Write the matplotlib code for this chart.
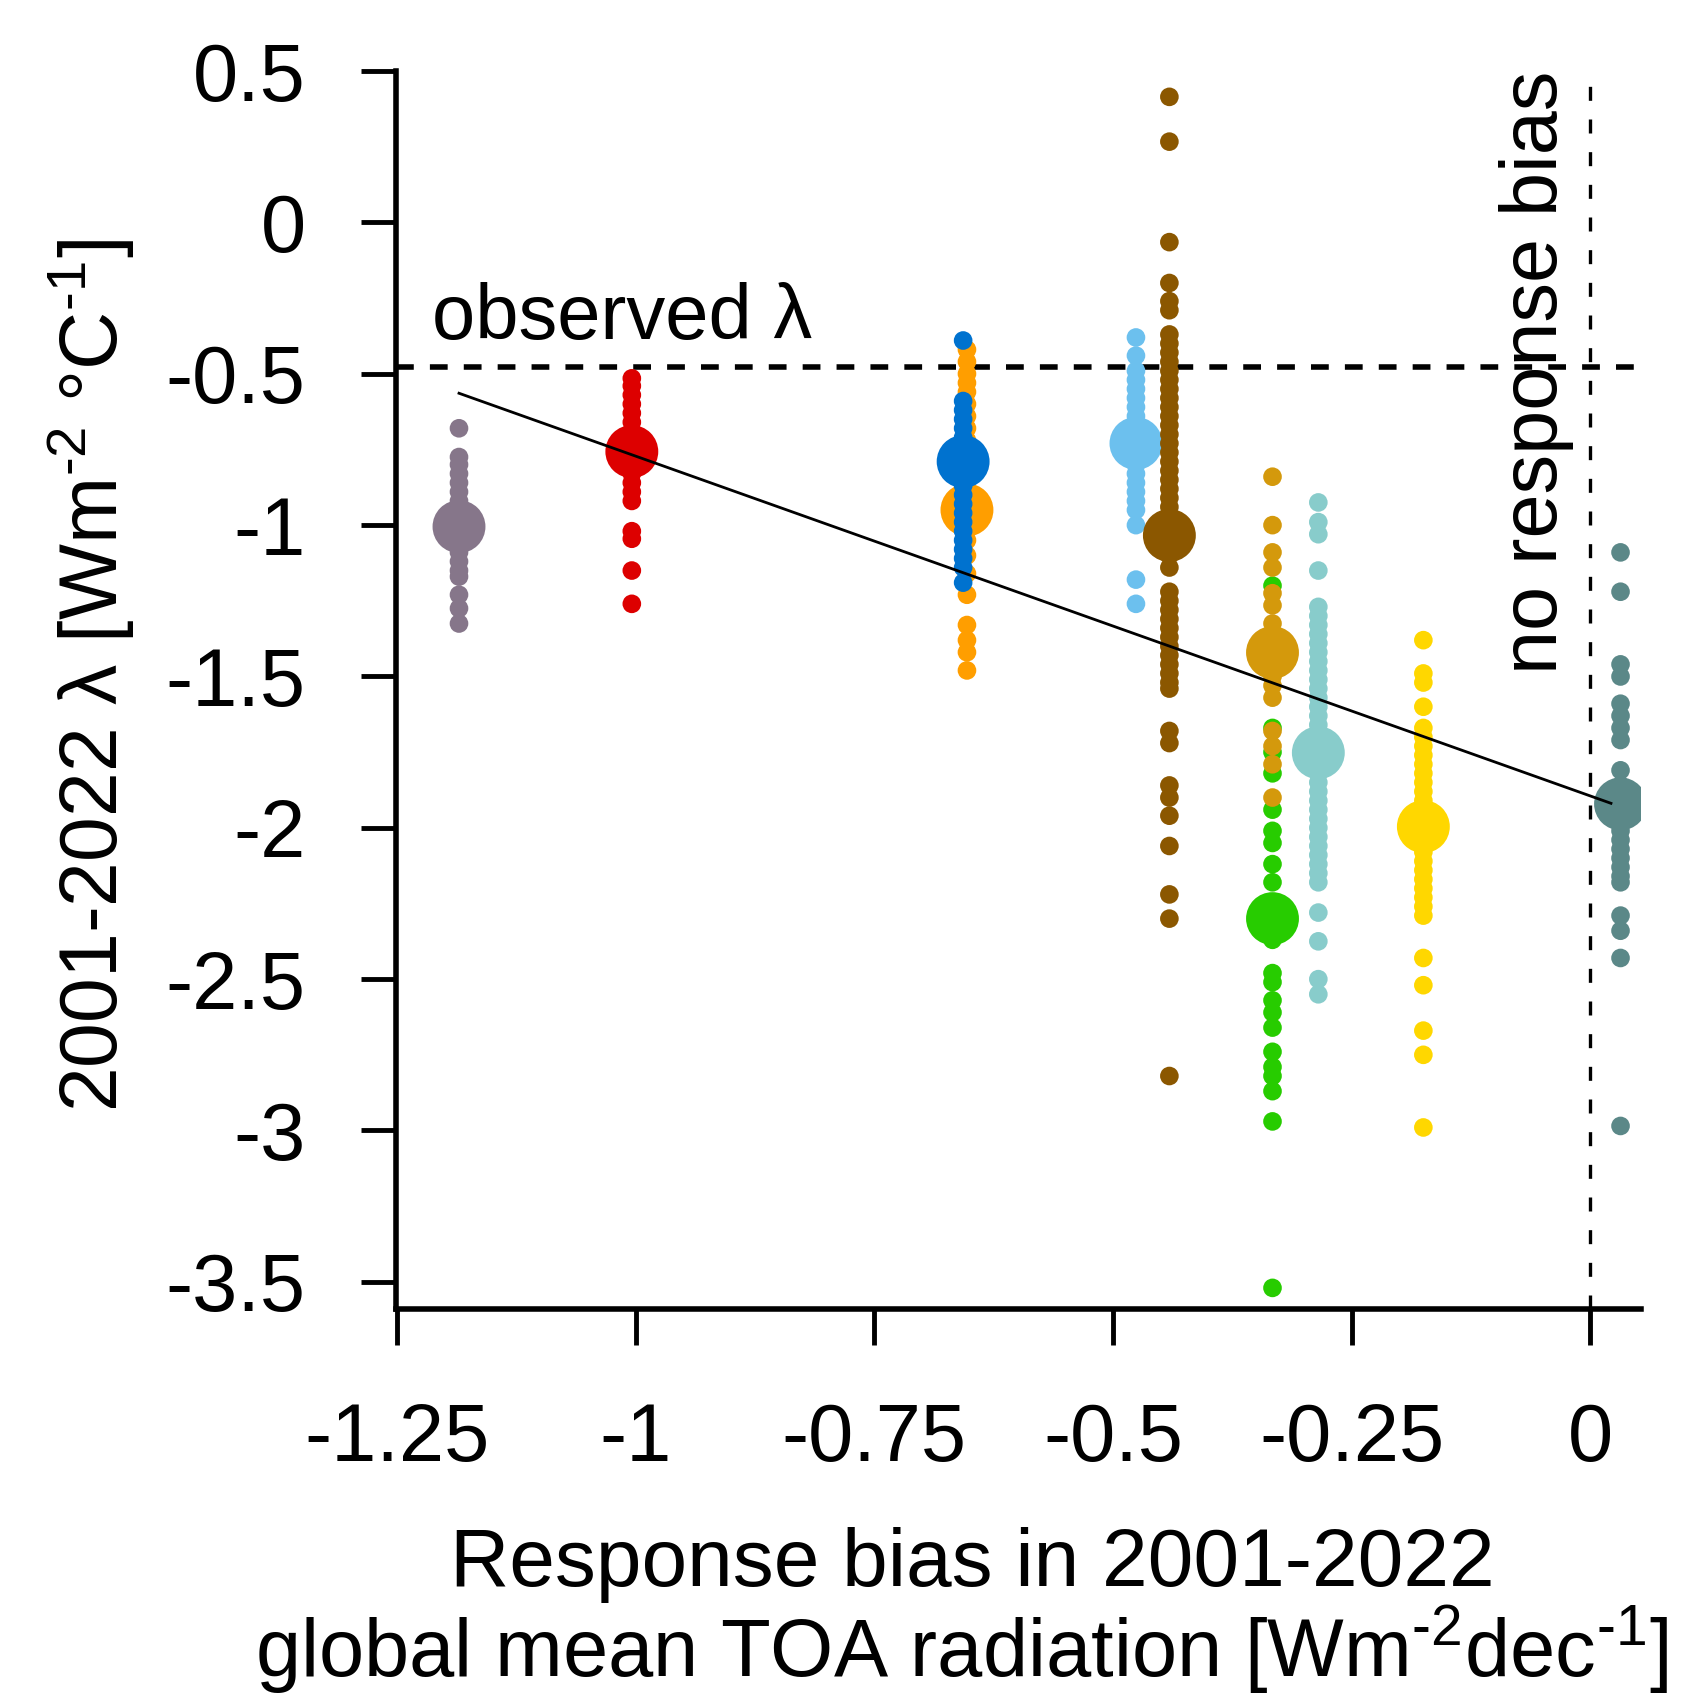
import numpy as np
import matplotlib
matplotlib.use("Agg")
import matplotlib.pyplot as plt

plt.rcParams['font.family'] = ['Liberation Sans', 'DejaVu Sans']
plt.rcParams['mathtext.fontset'] = 'custom'
plt.rcParams['mathtext.rm'] = 'Liberation Sans'
plt.rcParams['axes.unicode_minus'] = False

# response bias (x) of each model, ensemble-mean lambda, and member lambdas
model_colors = ['#86768A', '#DD0000', '#FF9E00', '#0072CF', '#6CC0EE', '#8B5700',
                '#27CC00', '#D4990C', '#88CCCB', '#FFD700', '#5B8888']
bias_x = [-1.185, -1.004, -0.653, -0.657, -0.476, -0.441, -0.333, -0.333, -0.285, -0.175, 0.0315]
mean_lambda = [-1.005, -0.757, -0.950, -0.790, -0.730, -1.034, -2.300, -1.421, -1.752, -1.996, -1.921]

gray_members = [-0.68, -0.775, -0.80, -0.83, -0.86, -0.89, -0.92, -0.95, -0.98, -1.03, -1.06,
                -1.09, -1.12, -1.15, -1.17, -1.23, -1.275, -1.325]
red_members = [-0.515, -0.54, -0.57, -0.60, -0.63, -0.66, -0.69, -0.72, -0.80, -0.83, -0.86,
               -0.89, -0.92, -1.02, -1.045, -1.15, -1.26]
orange_members = [-0.42, -0.46, -0.50, -0.53, -0.56, -0.60, -0.64, -0.68, -0.72, -0.76, -0.85,
                  -0.90, -1.00, -1.05, -1.10, -1.16, -1.23, -1.33, -1.38, -1.42, -1.48]
blue_members = [-0.39, -0.59, -0.62, -0.65, -0.68, -0.71, -0.74, -0.84, -0.87, -0.90, -0.93,
                -0.96, -0.99, -1.02, -1.05, -1.08, -1.11, -1.14, -1.19]
lightblue_members = [-0.38, -0.44, -0.49, -0.52, -0.55, -0.58, -0.61, -0.64, -0.67, -0.80, -0.83,
                     -0.86, -0.89, -0.92, -0.95, -1.00, -1.18, -1.26]
brown_members = [0.415, 0.267, -0.065, -0.20, -0.26, -0.29, -0.37, -0.40, -0.43, -0.46, -0.49,
                 -0.52, -0.55, -0.58, -0.61, -0.64, -0.67, -0.70, -0.73, -0.76, -0.79, -0.82,
                 -0.85, -0.88, -0.91, -0.94, -0.97, -1.00, -1.07, -1.10, -1.14, -1.22, -1.25,
                 -1.28, -1.31, -1.34, -1.37, -1.40, -1.43, -1.46, -1.49, -1.52, -1.54, -1.68,
                 -1.72, -1.86, -1.90, -1.96, -2.06, -2.22, -2.30, -2.82]
green_members = [-1.20, -1.47, -1.67, -1.75, -1.82, -1.94, -2.01, -2.05, -2.12, -2.18, -2.37,
                 -2.48, -2.51, -2.57, -2.61, -2.66, -2.74, -2.79, -2.82, -2.87, -2.97, -3.52]
gold_members = [-0.84, -1.00, -1.09, -1.14, -1.225, -1.265, -1.325, -1.38, -1.46, -1.50, -1.53,
                -1.57, -1.68, -1.73, -1.79, -1.90]
teal_members = [-0.925, -0.99, -1.03, -1.15, -1.27, -1.30, -1.33, -1.36, -1.39, -1.42, -1.45,
                -1.48, -1.51, -1.54, -1.57, -1.60, -1.63, -1.66, -1.69, -1.72, -1.79, -1.82,
                -1.85, -1.88, -1.91, -1.94, -1.97, -2.00, -2.03, -2.06, -2.09, -2.12, -2.15,
                -2.18, -2.28, -2.375, -2.50, -2.55]
yellow_members = [-1.38, -1.49, -1.52, -1.60, -1.67, -1.70, -1.73, -1.76, -1.79, -1.82, -1.85,
                  -1.88, -1.91, -1.94, -2.05, -2.08, -2.11, -2.14, -2.17, -2.20, -2.23, -2.26,
                  -2.29, -2.43, -2.52, -2.67, -2.75, -2.99]
slate_members = [-1.09, -1.22, -1.46, -1.50, -1.59, -1.63, -1.67, -1.71, -1.81, -1.86, -1.89,
                 -1.95, -1.98, -2.01, -2.04, -2.07, -2.10, -2.13, -2.16, -2.18, -2.29, -2.34,
                 -2.43, -2.985]

members = [gray_members, red_members, orange_members, blue_members, lightblue_members,
           brown_members, green_members, gold_members, teal_members, yellow_members,
           slate_members]

observed_lambda = -0.477

x_ticks = [-1.25, -1, -0.75, -0.5, -0.25, 0]
x_ticklabels = ['-1.25', '-1', '-0.75', '-0.5', '-0.25', '0']
y_ticks = [0.5, 0, -0.5, -1, -1.5, -2, -2.5, -3, -3.5]
y_ticklabels = ['0.5', '0', '-0.5', '-1', '-1.5', '-2', '-2.5', '-3', '-3.5']

fig = plt.figure(figsize=(16.87, 17.01), dpi=100)
ax = fig.add_axes([365 / 1555, 1 - 1207 / 1568, (1513 - 365) / 1555, (1207 - 65) / 1568])

for xb, mu, vals, col in zip(bias_x, mean_lambda, members, model_colors):
    ax.scatter(np.full(len(vals), xb), vals, s=180, color=col, edgecolors='none', zorder=3)
    ax.scatter([xb], [mu], s=1450, color=col, edgecolors='none', zorder=3)

# regression of ensemble means on response bias
slope, icpt = np.polyfit(bias_x, mean_lambda, 1)
xx = np.array([min(bias_x), max(bias_x) - 0.01])
ax.plot(xx, slope * xx + icpt, color='black', lw=2.0, zorder=4)

ax.axhline(observed_lambda, color='black', lw=4.0, dashes=[3.2, 2.9], zorder=2)
ax.axvline(0, color='black', lw=2.4, dashes=[4.2, 5.6], zorder=2)

ax.text(-1.2136, -0.384, u'observed \u03bb', fontsize=56, ha='left', va='baseline')
ax.text(-0.056, 0.5, 'no response bias', fontsize=57, rotation=90, ha='center', va='top')

ax.set_xlim(-1.251, 0.0534)
ax.set_ylim(-3.591, 0.502)
ax.set_xticks(x_ticks)
ax.set_xticklabels(x_ticklabels)
ax.set_yticks(y_ticks)
ax.set_yticklabels(y_ticklabels)

for side in ['top', 'right']:
    ax.spines[side].set_visible(False)
for side in ['left', 'bottom']:
    ax.spines[side].set_linewidth(4.0)

ax.tick_params(axis='x', direction='out', length=26, width=3.5, labelsize=58.5, pad=41)
ax.tick_params(axis='y', direction='out', length=25, width=3.5, labelsize=58.5, pad=40)

ax.set_ylabel(u'2001-2022 \u03bb [Wm$^{\\text{-2}}$ \u00b0C$^{\\text{-1}}$]', fontsize=58)
ax.yaxis.set_label_coords(-0.208, 0.512)

fig.text(0.5762, 1 - 1462 / 1568, 'Response bias in 2001-2022', fontsize=59,
         ha='center', va='baseline')
fig.text(0.5698, 1 - 1545 / 1568,
         'global mean TOA radiation [Wm$^{\\text{-2}}$dec$^{\\text{-1}}$]',
         fontsize=58.5, ha='center', va='baseline')

fig.savefig('out.png', dpi=100)
